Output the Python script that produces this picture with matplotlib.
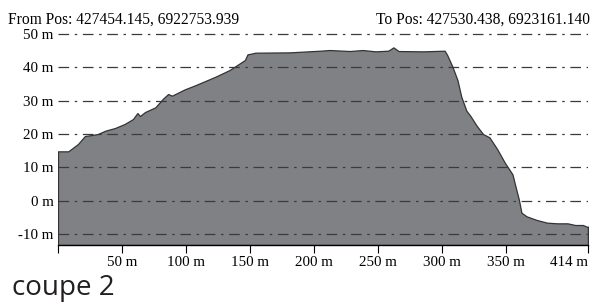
import matplotlib.pyplot as plt

# profile (distance in m, elevation in m)
dist = [0, 8, 15.6, 21, 26.5, 31, 37, 44.5, 52, 58.6, 62, 64, 68, 76, 82, 86, 89,
        99, 107, 123, 134, 146, 148, 152, 154, 181, 205, 212, 228, 238, 248, 258,
        262, 266, 285, 302, 304, 308, 312, 315, 319, 322, 327, 332, 337, 343, 349,
        355, 357, 360, 362, 366, 374, 382, 390, 398, 404, 410, 413, 414]
elev = [14.8, 14.8, 17, 19.4, 19.7, 20, 21, 21.8, 23, 24.5, 26.3, 25.4, 26.6, 28, 30.6,
        32, 31.5, 33.4, 34.6, 37.2, 39.2, 42.2, 43.9, 44.2, 44.4, 44.5, 45, 45.2,
        44.9, 45.2, 44.8, 45, 46, 44.9, 44.8, 45, 43.7, 40.3, 36.2, 31.2, 27, 25.5,
        22.5, 20, 19, 15.5, 11.4, 7.9, 4.8, 0.3, -3.6, -4.7, -5.8, -6.6, -6.8, -6.8,
        -7.3, -7.3, -7.8, -7.8]

yticks = [-10, 0, 10, 20, 30, 40, 50]
xticks = [0, 50, 100, 150, 200, 250, 300, 350, 414]
xlabels = ['', '50 m', '100 m', '150 m', '200 m', '250 m', '300 m', '350 m', '414 m']
from_pos = 'From Pos: 427454.145, 6922753.939'
to_pos = 'To Pos: 427530.438, 6923161.140'

plt.rcParams['font.family'] = 'Liberation Serif'

fig = plt.figure(figsize=(6.03, 3.05), dpi=100)
ax = fig.add_axes([58 / 603, 60 / 305, 530 / 603, 212.3 / 305])
ymin = -13.3
ax.fill_between(dist, elev, ymin, color='#808184', edgecolor='#333333', linewidth=0.9, zorder=1)
ax.plot([dist[-1], dist[-1]], [elev[-1], ymin], color='#333333', lw=0.9, zorder=2)

for y in yticks:
    ax.axhline(y, color='#3a3a3a', lw=0.9, ls=(0, (8.5, 4.5, 2, 4.5)), zorder=3)

ax.set_xlim(0, 414)
ax.set_ylim(ymin, 50.4)
ax.set_yticks(yticks)
ax.set_yticklabels([f'{y} m' for y in yticks], fontsize=10.8)
ax.set_xticks(xticks)
ax.set_xticklabels(xlabels, fontsize=10.8)
ax.get_xticklabels()[-1].set_ha('right')
ax.tick_params(axis='y', length=0, pad=3)
ax.tick_params(axis='x', direction='out', length=6, width=0.8, pad=2)
for s in ['top', 'right', 'left']:
    ax.spines[s].set_visible(False)
ax.spines['bottom'].set_linewidth(1)

fig.text(8 / 603, 1 - 24 / 305, from_pos, fontsize=11.2, va='baseline', ha='left')
fig.text(590 / 603, 1 - 24 / 305, to_pos, fontsize=11.2, va='baseline', ha='right')
fig.text(12 / 603, 1 - 288 / 305, 'coupe 2', fontsize=20, family='Open Sans',
         va='center', ha='left', color='#231f20')

fig.savefig('out.png', dpi=100)
